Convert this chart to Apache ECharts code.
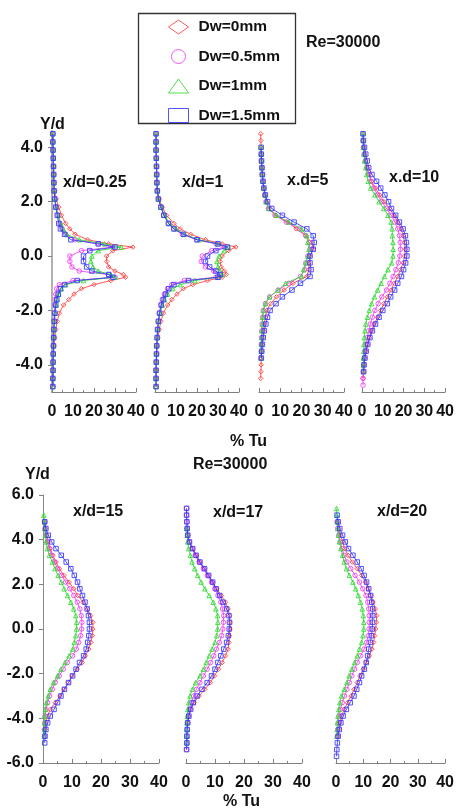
<!DOCTYPE html>
<html>
<head>
<meta charset="utf-8">
<script src="https://cdn.jsdelivr.net/npm/echarts@6/dist/echarts.min.js"></script>
<style>
  html, body { margin: 0; padding: 0; background: #fff; }
  #chart { width: 457px; height: 812px; }
</style>
</head>
<body>
<div id="chart"></div>
<script>
// series names (legend)
var seriesNames = ['Dw=0mm', 'Dw=0.5mm', 'Dw=1mm', 'Dw=1.5mm'];
var xTickLabels = [0, 10, 20, 30, 40];

// Y/d positions, top row x/d=0.25 and x/d=1
var yTop12 = [4.5, 4.2, 3.9, 3.6, 3.3, 3.0, 2.7, 2.4, 2.1, 1.8, 1.5, 1.2, 1.0, 0.8, 0.6, 0.45, 0.33, 0.2, 0, -0.2,
  -0.4, -0.55, -0.68, -0.78, -0.9, -1.05, -1.2, -1.4, -1.6, -1.8, -2.1, -2.4, -2.7, -3.0, -3.3, -3.6, -3.9, -4.2, -4.5, -4.8];
// Y/d positions, top row x/d=5 and x/d=10
var yTop34 = [4.5, 4.25, 4.0, 3.75, 3.5, 3.25, 3.0, 2.75, 2.5, 2.25, 2.0, 1.75, 1.5, 1.25, 1.0, 0.75, 0.5, 0.25, 0, -0.25,
  -0.5, -0.75, -1.0, -1.25, -1.5, -1.75, -2.0, -2.25, -2.5, -2.75, -3.0, -3.25, -3.5, -3.75, -4.0, -4.25, -4.5, -4.75];
// Y/d positions, bottom row
var yBottom = [5.4, 5.1, 4.8, 4.5, 4.2, 3.9, 3.6, 3.3, 3.0, 2.7, 2.4, 2.1, 1.8, 1.5, 1.2, 0.9, 0.6, 0.3, 0, -0.3,
  -0.6, -0.9, -1.2, -1.5, -1.8, -2.1, -2.4, -2.7, -3.0, -3.3, -3.6, -3.9, -4.2, -4.5, -4.8, -5.1, -5.4, -5.7];

// % Tu, x/d=0.25
var p025_dw0  = [0.5,0.5,0.6,0.7,0.8,0.9,1.0,1.3,2.0,3.2, 4.5,6.5,8.5,11,17,27,38.5,29,26,26, 27,30,34,35,28,20,14,10.5,8,5.5, 3.5,2.5,1.8,1.3,1.0,0.8,0.7,0.6,0.5,0.5];
var p025_dw05 = [0.4,0.4,0.5,0.6,0.7,0.8,0.9,1.0,1.4,2.0, 2.8,3.8,4.8,6.5,11,22,29,14,8.5,8.5, 9.5,13,27,30,10,3.5,2.2,1.8,1.5,1.3, 1.1,0.9,0.8,0.7,0.6,0.5,0.5,0.4,0.4,0.4];
var p025_dw1  = [0.4,0.4,0.5,0.6,0.7,0.8,0.9,1.0,1.4,2.0, 3.0,4.2,5.3,7,13,25,33,22,19,18.5, 19.5,22,28,30,15,6.5,4.5,3.2,2.5,2, 1.5,1.2,1.0,0.8,0.7,0.6,0.5,0.5,0.4,0.4];
var p025_dw15 = [0.4,0.4,0.5,0.6,0.7,0.8,0.9,1.0,1.3,1.8, 2.5,3.2,4,6,9,22,30,18,15,15, 16.5,19,27,29,12,6,4,3,2.3,1.8, 1.4,1.1,0.9,0.8,0.7,0.6,0.5,0.5,0.4,0.4];

// % Tu, x/d=1
var p1_dw0  = [0.5,0.5,0.6,0.7,0.8,0.9,1.0,1.3,2.0,3.5, 5.5,9,12,17,24,32,38.5,35,32,31, 31.5,33,34,32,25,18,13.5,10.5,8,6, 4,2.8,2,1.4,1.1,0.9,0.7,0.6,0.5,0.5];
var p1_dw05 = [0.5,0.5,0.5,0.6,0.7,0.8,0.9,1.1,1.6,2.8, 4.2,6.5,9,13,20,29,33,27,22.5,22, 24,28,31,29,14,8,6,4.5,3.5,2.8, 2,1.5,1.2,1.0,0.8,0.7,0.6,0.5,0.5,0.5];
var p1_dw1  = [0.5,0.5,0.5,0.6,0.7,0.8,0.9,1.1,1.7,3, 4.6,7,10,14,21,30,35,33,30.5,29.5, 30,31,32,30,19,12,8.5,6,4.5,3.5, 2.5,1.8,1.3,1.0,0.8,0.7,0.6,0.5,0.5,0.5];
var p1_dw15 = [0.5,0.5,0.5,0.6,0.7,0.8,0.9,1.1,1.6,2.8, 4.2,6.4,9,13.6,20,30,34.5,29,25,24, 26,29,31,30,16,9,6.5,5,4,3, 2.2,1.6,1.2,1.0,0.8,0.7,0.6,0.5,0.5,0.5];

// % Tu, x/d=5
var p5_dw0  = [0.8,0.9,1.0,1.1,1.2,1.4,1.6,1.9,2.3,2.8, 3.5,4.8,8,13.5,17.5,22,24.8,25.5,24,23.5, 23.5,22.4,16,11.8,8.2,5.5,3.6,3,2.5,2.1, 1.8,1.5,1.3,1.1,1.0,0.9,0.8,null];
var p5_dw05 = [null,null,null,1.0,1.1,1.3,1.5,1.8,2.2,2.7, 3.3,4.4,7.5,12.8,19,22,23.5,24,23,22, 21.5,19.5,14,9,5,3,2,1.7,1.5,1.3, 1.2,1.1,1.0,0.9,null,null,null,null];
var p5_dw1  = [null,null,0.9,1.0,1.1,1.3,1.5,1.8,2.2,2.7, 3.3,4.5,8,14,20,22.5,23,23.5,23,22, 21,20,12.5,9,5,3,2,1.7,1.5,1.3, 1.2,1.1,1.0,0.9,null,null,null,null];
var p5_dw15 = [null,null,1.0,1.1,1.2,1.4,1.6,1.9,2.3,3.0, 4.0,6,11,16.5,22.5,25.5,26,25.5,24,24, 24.5,24,19.5,15.5,11,8,5.2,4,3.2,2.5, 2.0,1.6,1.3,1.1,null,null,null,null];

// % Tu, x/d=10
var p10_dw0  = [0.5,0.6,0.8,1.2,1.8,2.5,3.5,4.6,6.5,8.5, 10.5,13.2,15.5,17.2,18.8,19.8,20.5,20.9,20.5,19.8, 18.5,17.2,15.5,14,12.2,10.5,9,7.5,5.8,4.5, 3.5,2.6,1.9,1.4,1.0,0.8,0.6,null];
var p10_dw05 = [null,0.5,0.7,1.0,1.6,2.3,3.2,4.4,5.8,7.5, 9.5,11.8,14,15.8,17.2,18,18.4,18.5,18.2,17.5, 16.3,15,13.4,11.8,9.5,7.8,6.2,5,4,3.2, 2.5,1.9,1.4,1.0,0.8,0.6,0.5,0.5];
var p10_dw1  = [0.5,0.6,0.7,0.9,1.2,1.8,2.2,3.0,4.2,6.2, 8.2,10.5,12.5,14,14.5,14.6,14.9,15,14.9,14.3, 12.5,10.8,9.2,7.5,6,4.6,3.5,2.6,1.8,1.4, 1.1,0.9,0.8,0.7,0.6,0.6,null,null];
var p10_dw15 = [0.5,0.7,1.2,1.8,2.5,3.2,4.8,7,9,11, 12.8,14.2,16.2,18,19.8,20.9,21.4,21.6,21.6,21, 20,19,17.2,15.7,13.8,12.2,10,8.2,6.5,5, 3.8,2.8,2.0,1.4,1.0,0.8,null,null];

// % Tu, x/d=15
var p15_dw0  = [null,null,0.5,0.8,1.2,1.8,2.5,3.4,4.5,5.6, 7.2,9,10.6,12,13.8,15.3,16.4,17.2,17.2,17, 16.5,15.8,14.6,13.5,11.8,10,8.8,7.2,5.8,4.2, 2.5,1.5,1.0,0.7,null,null,null,null];
var p15_dw05 = [null,null,0.6,0.7,1.0,1.5,2.2,3,4,5, 6.4,7.8,9.2,10.6,11.8,12.7,13.2,13.4,13.3,13, 12.3,11.5,10.2,8.4,7,5.6,4.2,3.2,2.3,1.6, 1.0,0.7,0.6,0.5,0.5,null,null,null];
var p15_dw1  = [null,0.3,0.5,0.6,0.8,1.0,1.5,2.2,3.2,4.1, 5.2,6.3,7.3,8.5,9.6,10.6,11.3,11.6,11.6,11.3, 10.8,10.2,9,7.6,6.2,5,3.6,2.5,1.8,1.2, 0.8,0.6,0.5,0.5,0.4,null,null,null];
var p15_dw15 = [null,null,0.6,1.0,1.8,3.0,4.5,6.3,8,9.6, 10.8,11.9,12.7,13.6,14.5,15.2,15.7,16,16,15.8, 15.4,14.9,14,12.6,11.4,10.2,8.8,7.4,6.2,5, 3.8,2.5,1.6,1.0,0.7,0.6,null,null];

// % Tu, x/d=17
var p17_dw0  = [null,null,null,0.3,0.6,1.2,2.3,3.5,4.8,6.4, 7.8,9.2,10.6,12.2,13.6,14.5,15,15.2,15.2,15, 14.8,14.5,13.6,12.5,11.2,9.8,8.4,6.5,4.5,2.8, 1.6,1.0,0.6,null,null,null,null,null];
var p17_dw05 = [0.2,0.2,0.3,0.4,0.6,1.1,2.1,3.2,4.5,6, 7.4,8.8,9.9,11,12,12.6,13,12.9,12.7,12.3, 11.5,10.5,9.6,8.5,7.3,6,4.8,3.6,2.6,1.8, 1.2,0.8,0.5,0.4,0.3,0.3,0.2,null];
var p17_dw1  = [null,null,null,0.3,0.4,0.6,0.9,1.5,2.1,3, 4,5.2,6.5,8,9.4,10.3,10.9,11,10.9,10.6, 10,9,8,7,6,4.8,3.3,2.2,1.4,0.9, 0.6,0.4,0.3,0.3,0.3,0.3,null,null];
var p17_dw15 = [0.2,0.2,0.3,0.4,0.6,1.2,2.3,3.5,4.8,6.4, 7.8,9.2,10.4,11.6,12.8,14,14.8,15,14.9,14.6, 14,13,12,11,10,8.8,7.3,5.5,3.8,2.5, 1.6,1.0,0.6,0.4,0.3,0.3,0.2,null];

// % Tu, x/d=20
var p20_dw0  = [null,null,0.5,1.0,1.6,2.4,3.2,4.4,6,7.8, 9.4,10.8,11.8,12.8,13.6,14.4,14.9,14.8,14.5,14.2, 13.8,13.2,12.2,11.1,10,8.8,7.8,6.6,5.5,4.2, 3.0,2.0,1.4,1.0,0.7,null,null,null];
var p20_dw05 = [null,null,0.4,0.6,1.0,1.5,2.2,3.0,4.0,5.4, 7,8.6,9.8,11,11.6,12,12.2,12.2,12.1,11.8, 11.2,10.3,9,7.8,6.8,5.8,4.9,4,3.1,2.3, 1.6,1.1,0.8,0.6,0.5,null,null,null];
var p20_dw1  = [0.2,0.3,0.4,0.6,0.9,1.3,1.8,2.4,3.0,3.8, 4.9,6.2,7.2,8.2,9,9.6,10,10.2,10.2,9.9, 9.4,8.6,7.8,6.8,5.8,4.8,4.0,3.0,2.0,1.4, 1.0,0.7,0.5,0.4,0.3,null,null,null];
var p20_dw15 = [null,0.4,0.8,1.4,2.4,3.4,4.6,6.2,7.8,9.2, 10.3,11.2,12,12.7,13.1,13.4,13.5,13.4,13.3,13, 12.6,12,11.6,11.1,10.4,9.4,8.6,7.6,6.6,5.2, 3.8,2.6,1.8,1.2,0.8,0.5,0.3,0.2];

var FONT = 'Liberation Sans, Arial, sans-serif';
var COLORS = ['#ff3c3c', '#f23cf2', '#2fd92f', '#3535ff'];
var SYMBOLS = ['diamond', 'circle', 'triangle', 'rect'];

// panel layout
var panels = [
  {ys: yTop12, tu: [p025_dw0, p025_dw05, p025_dw1, p025_dw15], left: 52, width: 84, top: 131, height: 261, min: -5, max: 4.6, showY: true},
  {ys: yTop12, tu: [p1_dw0, p1_dw05, p1_dw1, p1_dw15], left: 155, width: 84, top: 131, height: 261, min: -5, max: 4.6},
  {ys: yTop34, tu: [p5_dw0, p5_dw05, p5_dw1, p5_dw15], left: 259, width: 85, top: 131, height: 261, min: -5, max: 4.6},
  {ys: yTop34, tu: [p10_dw0, p10_dw05, p10_dw1, p10_dw15], left: 362, width: 85, top: 131, height: 261, min: -5, max: 4.6},
  {ys: yBottom, tu: [p15_dw0, p15_dw05, p15_dw1, p15_dw15], left: 43, width: 116, top: 495, height: 268, min: -6, max: 6, showY: true, bottom: true},
  {ys: yBottom, tu: [p17_dw0, p17_dw05, p17_dw1, p17_dw15], left: 186, width: 116, top: 495, height: 268, min: -6, max: 6, bottom: true},
  {ys: yBottom, tu: [p20_dw0, p20_dw05, p20_dw1, p20_dw15], left: 336, width: 116, top: 495, height: 268, min: -6, max: 6, bottom: true}
];

var grids = [], xAxes = [], yAxes = [], series = [];

panels.forEach(function (p, i) {
  grids.push({left: p.left, top: p.top, width: p.width, height: p.height, containLabel: false});
  xAxes.push({
    type: 'value', gridIndex: i, min: 0, max: 40, interval: 10,
    axisLine: {show: true, onZero: false, lineStyle: {color: '#808080', width: 1}},
    axisTick: {show: true, inside: true, length: 4, lineStyle: {color: '#808080'}},
    minorTick: {show: true, splitNumber: 2, length: 2, lineStyle: {color: '#808080'}},
    splitLine: {show: false},
    axisLabel: {
      color: '#111', fontFamily: FONT, fontWeight: 'bold', fontSize: 16,
      margin: 12, showMinLabel: true, showMaxLabel: true,
      customValues: xTickLabels
    }
  });
  var yTicks = p.bottom ? [-6, -4, -2, 0, 2, 4, 6] : [-4, -2, 0, 2, 4];
  yAxes.push({
    type: 'value', gridIndex: i, min: p.min, max: p.max,
    show: !!p.showY,
    axisLine: {show: true, onZero: false, lineStyle: {color: p.bottom ? '#8a8a8a' : '#b0b0b0', width: p.bottom ? 1 : 2}},
    axisTick: {show: true, length: 4, customValues: yTicks, lineStyle: {color: '#808080'}},
    minorTick: {show: false},
    splitLine: {show: false},
    axisLabel: {
      color: '#111', fontFamily: FONT, fontWeight: 'bold', fontSize: 16, margin: 9,
      customValues: yTicks,
      formatter: function (v) { return v.toFixed(1); }
    }
  });
  p.tu.forEach(function (vals, k) {
    var data = [];
    p.ys.forEach(function (y, j) {
      if (vals[j] !== null) data.push([vals[j], y]);
    });
    series.push({
      name: seriesNames[k], type: 'line', xAxisIndex: i, yAxisIndex: i,
      data: data, symbol: SYMBOLS[k], symbolSize: 4.5, showAllSymbol: true,
      color: COLORS[k],
      lineStyle: {color: COLORS[k], width: 1, opacity: 0.85},
      itemStyle: {color: 'rgba(255,255,255,0)', borderColor: COLORS[k], borderWidth: 1, opacity: 0.85},
      emphasis: {disabled: true},
      z: 2 + k
    });
  });
});

function txt(s, left, top, size) {
  return {type: 'text', left: left, top: top, style: {text: s, fill: '#111', font: 'bold ' + (size || 16) + 'px ' + FONT}};
}

var chart = echarts.init(document.getElementById('chart'), null, {renderer: 'canvas'});
chart.setOption({
  animation: false,
  backgroundColor: '#fff',
  grid: grids,
  xAxis: xAxes,
  yAxis: yAxes,
  series: series,
  legend: {
    orient: 'vertical', left: 163, top: 14,
    itemWidth: 20, itemHeight: 14, itemGap: 13.5,
    selectedMode: false,
    textStyle: {color: '#111', fontFamily: FONT, fontWeight: 'bold', fontSize: 15.5, padding: [0, 0, 0, 5]},
    data: seriesNames.map(function (n, k) {
      return {name: n, icon: SYMBOLS[k], itemStyle: {color: 'rgba(255,255,255,0)', borderColor: COLORS[k], borderWidth: 1}};
    })
  },
  graphic: [
    {type: 'rect', shape: {x: 138.5, y: 13.5, width: 157, height: 110}, style: {fill: 'none', stroke: '#333', lineWidth: 1.3}},
    txt('Re=30000', 306, 35),
    txt('Y/d', 40, 117),
    txt('x/d=0.25', 63, 175),
    txt('x/d=1', 182, 175),
    txt('x.d=5', 287, 173),
    txt('x.d=10', 389, 170),
    txt('% Tu', 230, 434),
    txt('Re=30000', 193, 457),
    txt('Y/d', 25, 467),
    txt('x/d=15', 73, 504),
    txt('x/d=17', 213, 505),
    txt('x/d=20', 377, 504),
    txt('% Tu', 223, 794)
  ]
});
</script>
</body>
</html>
